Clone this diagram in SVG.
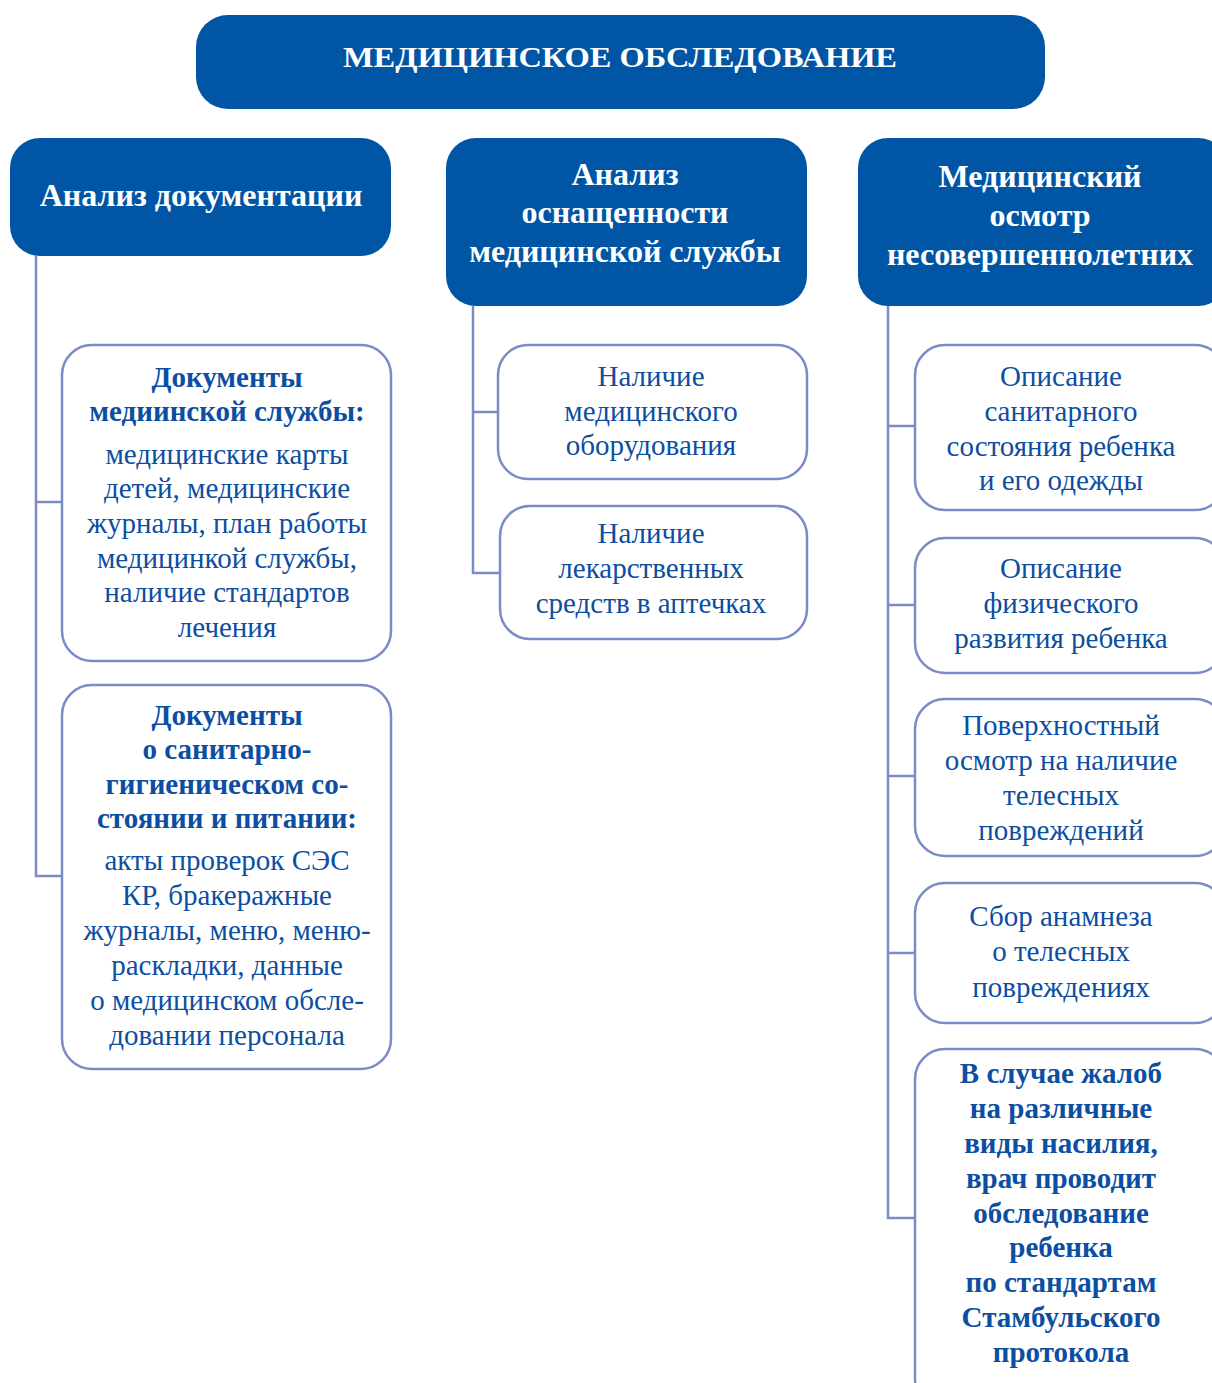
<svg xmlns="http://www.w3.org/2000/svg" width="1212" height="1383" viewBox="0 0 1212 1383">
<style>
.hdr{fill:#0055A5;}
.box{fill:#ffffff;stroke:#7B8BC6;stroke-width:2.5;}
.conn{fill:none;stroke:#7B8BC6;stroke-width:2.5;}
.ht{fill:#ffffff;font-family:"Liberation Serif","DejaVu Serif",serif;font-weight:bold;font-size:32px;text-anchor:middle;}
.tt{fill:#ffffff;font-family:"Liberation Serif","DejaVu Serif",serif;font-weight:bold;font-size:30px;text-anchor:middle;}
.bt{fill:#0B4EA2;font-family:"Liberation Serif","DejaVu Serif",serif;font-size:29px;text-anchor:middle;}
.bb{fill:#0B4EA2;font-family:"Liberation Serif","DejaVu Serif",serif;font-size:29px;font-weight:bold;text-anchor:middle;}
</style>
<rect width="1212" height="1383" fill="#ffffff"/>
<g id="connectors">
<path class="conn" d="M36,256 V876 H62 M36,502 H62"/>
<path class="conn" d="M473,306 V573 H500 M473,412 H498"/>
<path class="conn" d="M888,306 V1218 H915 M888,426 H915 M888,605 H915 M888,776 H915 M888,953 H915"/>
</g>
<g id="title">
<rect class="hdr" x="196" y="15" width="849" height="94" rx="32"/>
<text class="tt" x="620" y="67" textLength="554" lengthAdjust="spacingAndGlyphs">МЕДИЦИНСКОЕ ОБСЛЕДОВАНИЕ</text>
</g>
<g id="h-docs">
<rect class="hdr" x="10" y="138" width="381" height="118" rx="30"/>
<text class="ht" x="201" y="206">Анализ документации</text>
</g>
<g id="h-equip">
<rect class="hdr" x="446" y="138" width="361" height="168" rx="30"/>
<text class="ht" x="625" y="185">Анализ</text>
<text class="ht" x="625" y="223">оснащенности</text>
<text class="ht" x="625" y="262">медицинской службы</text>
</g>
<g id="h-exam">
<rect class="hdr" x="858" y="138" width="370" height="168" rx="30"/>
<text class="ht" x="1040" y="187">Медицинский</text>
<text class="ht" x="1040" y="226">осмотр</text>
<text class="ht" x="1040" y="265">несовершеннолетних</text>
</g>
<g id="n-docs-med">
<rect class="box" x="62" y="345" width="329" height="316" rx="30"/>
<text class="bb" x="227" y="387">Документы</text>
<text class="bb" x="227" y="421">медиинской службы:</text>
<text class="bt" x="227" y="464">медицинские карты</text>
<text class="bt" x="227" y="498">детей, медицинские</text>
<text class="bt" x="227" y="533">журналы, план работы</text>
<text class="bt" x="227" y="568">медицинкой службы,</text>
<text class="bt" x="227" y="602">наличие стандартов</text>
<text class="bt" x="227" y="637">лечения</text>
</g>
<g id="n-docs-san">
<rect class="box" x="62" y="685" width="329" height="384" rx="30"/>
<text class="bb" x="227" y="725">Документы</text>
<text class="bb" x="227" y="759">о санитарно-</text>
<text class="bb" x="227" y="794">гигиеническом со-</text>
<text class="bb" x="227" y="828">стоянии и питании:</text>
<text class="bt" x="227" y="870">акты проверок СЭС</text>
<text class="bt" x="227" y="905">КР, бракеражные</text>
<text class="bt" x="227" y="940">журналы, меню, меню-</text>
<text class="bt" x="227" y="975">раскладки, данные</text>
<text class="bt" x="227" y="1010">о медицинском обсле-</text>
<text class="bt" x="227" y="1045">довании персонала</text>
</g>
<g id="n-equip">
<rect class="box" x="498" y="345" width="309" height="134" rx="30"/>
<text class="bt" x="651" y="386">Наличие</text>
<text class="bt" x="651" y="421">медицинского</text>
<text class="bt" x="651" y="455">оборудования</text>
</g>
<g id="n-drugs">
<rect class="box" x="500" y="506" width="307" height="133" rx="30"/>
<text class="bt" x="651" y="543">Наличие</text>
<text class="bt" x="651" y="578">лекарственных</text>
<text class="bt" x="651" y="613">средств в аптечках</text>
</g>
<g id="n-sanitary">
<rect class="box" x="915" y="345" width="310" height="165" rx="30"/>
<text class="bt" x="1061" y="386">Описание</text>
<text class="bt" x="1061" y="421">санитарного</text>
<text class="bt" x="1061" y="456">состояния ребенка</text>
<text class="bt" x="1061" y="490">и его одежды</text>
</g>
<g id="n-physical">
<rect class="box" x="915" y="538" width="310" height="135" rx="30"/>
<text class="bt" x="1061" y="578">Описание</text>
<text class="bt" x="1061" y="613">физического</text>
<text class="bt" x="1061" y="648">развития ребенка</text>
</g>
<g id="n-surface">
<rect class="box" x="915" y="699" width="310" height="157" rx="30"/>
<text class="bt" x="1061" y="735">Поверхностный</text>
<text class="bt" x="1061" y="770">осмотр на наличие</text>
<text class="bt" x="1061" y="805">телесных</text>
<text class="bt" x="1061" y="840">повреждений</text>
</g>
<g id="n-anamnesis">
<rect class="box" x="915" y="883" width="310" height="140" rx="30"/>
<text class="bt" x="1061" y="926">Сбор анамнеза</text>
<text class="bt" x="1061" y="961">о телесных</text>
<text class="bt" x="1061" y="997">повреждениях</text>
</g>
<g id="n-istanbul">
<rect class="box" x="915" y="1049" width="310" height="360" rx="30"/>
<text class="bb" x="1061" y="1083">В случае жалоб</text>
<text class="bb" x="1061" y="1118">на различные</text>
<text class="bb" x="1061" y="1153">виды насилия,</text>
<text class="bb" x="1061" y="1188">врач проводит</text>
<text class="bb" x="1061" y="1223">обследование</text>
<text class="bb" x="1061" y="1257">ребенка</text>
<text class="bb" x="1061" y="1292">по стандартам</text>
<text class="bb" x="1061" y="1327">Стамбульского</text>
<text class="bb" x="1061" y="1362">протокола</text>
</g>
</svg>
